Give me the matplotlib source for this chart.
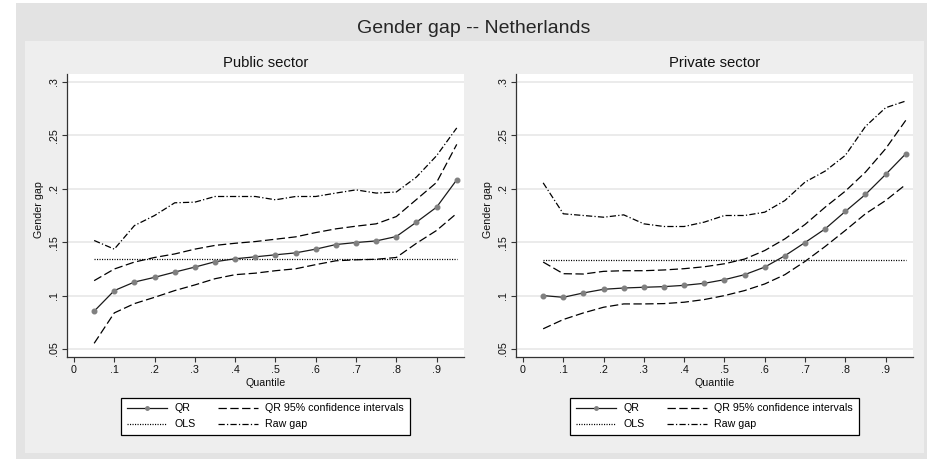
import matplotlib
matplotlib.use("Agg")
import matplotlib.pyplot as plt
from matplotlib.patches import Rectangle
from matplotlib.lines import Line2D

plt.rcParams['font.family'] = ['Liberation Sans', 'DejaVu Sans']
plt.rcParams['lines.scale_dashes'] = False

quantiles = [0.05, 0.10, 0.15, 0.20, 0.25, 0.30, 0.35, 0.40, 0.45, 0.50,
             0.55, 0.60, 0.65, 0.70, 0.75, 0.80, 0.85, 0.90, 0.95]

# Public sector
pub_qr = [0.0854, 0.1047, 0.1127, 0.1171, 0.1220, 0.1267, 0.1317, 0.1345, 0.1363, 0.1382,
          0.1400, 0.1435, 0.1478, 0.1497, 0.1512, 0.1553, 0.1688, 0.1828, 0.2084]
pub_ci_hi = [0.1140, 0.1249, 0.1314, 0.1357, 0.1390, 0.1435, 0.1470, 0.1490, 0.1506, 0.1528,
             0.1550, 0.1590, 0.1625, 0.1650, 0.1672, 0.1740, 0.1900, 0.2060, 0.2416]
pub_ci_lo = [0.0553, 0.0838, 0.0925, 0.0984, 0.1047, 0.1100, 0.1158, 0.1196, 0.1210, 0.1233,
             0.1251, 0.1290, 0.1326, 0.1335, 0.1340, 0.1357, 0.1490, 0.1610, 0.1770]
pub_raw = [0.1516, 0.1435, 0.1656, 0.1750, 0.1869, 0.1875, 0.1928, 0.1928, 0.1928, 0.1897,
           0.1928, 0.1928, 0.1960, 0.1990, 0.1960, 0.1970, 0.2110, 0.2310, 0.2570]
pub_ols = 0.1345

# Private sector
pri_qr = [0.1000, 0.0984, 0.1025, 0.1059, 0.1071, 0.1078, 0.1084, 0.1096, 0.1115, 0.1149,
          0.1196, 0.1267, 0.1373, 0.1497, 0.1625, 0.1788, 0.1947, 0.2134, 0.2328]
pri_ci_hi = [0.1314, 0.1205, 0.1202, 0.1227, 0.1233, 0.1233, 0.1240, 0.1252, 0.1270, 0.1298,
             0.1342, 0.1422, 0.1531, 0.1666, 0.1828, 0.1978, 0.2156, 0.2375, 0.2641]
pri_ci_lo = [0.0689, 0.0776, 0.0838, 0.0891, 0.0922, 0.0922, 0.0925, 0.0938, 0.0963, 0.1000,
             0.1047, 0.1109, 0.1196, 0.1320, 0.1460, 0.1610, 0.1766, 0.1890, 0.2040]
pri_raw = [0.2056, 0.1766, 0.1750, 0.1734, 0.1756, 0.1672, 0.1647, 0.1647, 0.1688, 0.1750,
           0.1750, 0.1781, 0.1890, 0.2063, 0.2166, 0.2313, 0.2584, 0.2759, 0.2822]
pri_ols = 0.1335

panel_titles = ["Public sector", "Private sector"]
main_title = "Gender gap -- Netherlands"
x_ticks = [0, 0.1, 0.2, 0.3, 0.4, 0.5, 0.6, 0.7, 0.8, 0.9]
x_ticklabels = ["0", ".1", ".2", ".3", ".4", ".5", ".6", ".7", ".8", ".9"]
y_ticks = [0.05, 0.10, 0.15, 0.20, 0.25, 0.30]
y_ticklabels = [".05", ".1", ".15", ".2", ".25", ".3"]
legend_labels = ["QR", "OLS", "QR 95% confidence intervals", "Raw gap"]

W, H = 927, 459
fig = plt.figure(figsize=(W / 100, H / 100), dpi=100)
fig.patch.set_facecolor("white")

def px_rect(x0, y0, x1, y1, color):
    fig.patches.append(Rectangle((x0 / W, 1 - y1 / H), (x1 - x0) / W, (y1 - y0) / H,
                                 transform=fig.transFigure, facecolor=color,
                                 edgecolor="none", zorder=-10))

px_rect(16, 3, 927, 459, "#e3e3e3")
px_rect(25, 41, 924, 453, "#eeeeee")

fig.text(474 / W, 1 - 33 / H, main_title, ha="center", va="baseline", fontsize=14,
         color="#262626")

LW = 0.9
CI_DASH = (0, (6, 2.5))
RAW_DASH = (0, (4.5, 1.6, 0.9, 1.6))
OLS_DASH = (0, (0.8, 1.0))

panels = [
    (67, 464, pub_qr, pub_ci_hi, pub_ci_lo, pub_raw, pub_ols),
    (516, 913, pri_qr, pri_ci_hi, pri_ci_lo, pri_raw, pri_ols),
]

for i, (x0, x1, qr, hi, lo, raw, ols) in enumerate(panels):
    y0, y1 = 74, 357
    ax = fig.add_axes([x0 / W, 1 - y1 / H, (x1 - x0) / W, (y1 - y0) / H])
    ax.set_facecolor("white")
    ax.set_xlim(-0.0174, 0.968)
    ax.set_ylim(0.0425, 0.3075)
    for yt in y_ticks:
        ax.axhline(yt, color="#e6e6e6", lw=1.1, zorder=0)
    ax.plot(quantiles, hi, color="black", lw=LW, linestyle=CI_DASH, zorder=2)
    ax.plot(quantiles, lo, color="black", lw=LW, linestyle=CI_DASH, zorder=2)
    ax.plot(quantiles, raw, color="black", lw=LW, linestyle=RAW_DASH, zorder=2)
    ax.plot([quantiles[0], quantiles[-1]], [ols, ols], color="black", lw=LW,
            linestyle=OLS_DASH, zorder=2)
    ax.plot(quantiles, qr, color="#1a1a1a", lw=LW, zorder=3)
    ax.plot(quantiles, qr, linestyle="none", marker="o", markersize=3.3,
            markerfacecolor="#808080", markeredgecolor="#808080", zorder=4)

    ax.set_xticks(x_ticks)
    ax.set_xticklabels(x_ticklabels)
    ax.set_yticks(y_ticks)
    ax.set_yticklabels(y_ticklabels, rotation=90, va="center")
    ax.tick_params(axis="both", direction="out", length=3.6, width=0.8,
                   color="#333333", labelsize=7.7, labelcolor="#111111")
    ax.tick_params(axis="x", pad=2.5)
    ax.tick_params(axis="y", pad=2.5)
    for s in ["top", "right"]:
        ax.spines[s].set_visible(False)
    for s in ["left", "bottom"]:
        ax.spines[s].set_color("#333333")
        ax.spines[s].set_linewidth(0.9)

    ax.set_title(panel_titles[i], fontsize=10.7, pad=5, color="#111111")
    ax.set_ylabel("Gender gap", fontsize=7.7, color="#111111")
    ax.yaxis.set_label_coords(-0.058, 0.52)
    ax.set_xlabel("Quantile", fontsize=7.7, color="#111111")
    ax.xaxis.set_label_coords(0.5, -0.075)

    handles = [
        Line2D([], [], color="#1a1a1a", lw=LW, marker="o", markersize=2.5,
               markerfacecolor="#808080", markeredgecolor="#808080", markevery=[1]),
        Line2D([], [], color="black", lw=LW, linestyle=OLS_DASH),
        Line2D([], [], color="black", lw=LW, linestyle=CI_DASH),
        Line2D([], [], color="black", lw=LW, linestyle=RAW_DASH),
    ]
    leg = ax.legend(handles, legend_labels, ncol=2, loc="center",
                    bbox_to_anchor=(0.5, -0.21), fontsize=7.7, frameon=True,
                    fancybox=False, framealpha=1, edgecolor="black",
                    handlelength=3.7, handletextpad=0.7, columnspacing=2.1,
                    labelspacing=0.55, borderpad=0.55, borderaxespad=0)
    leg.get_frame().set_linewidth(0.9)

fig.savefig("out.png", dpi=100)
